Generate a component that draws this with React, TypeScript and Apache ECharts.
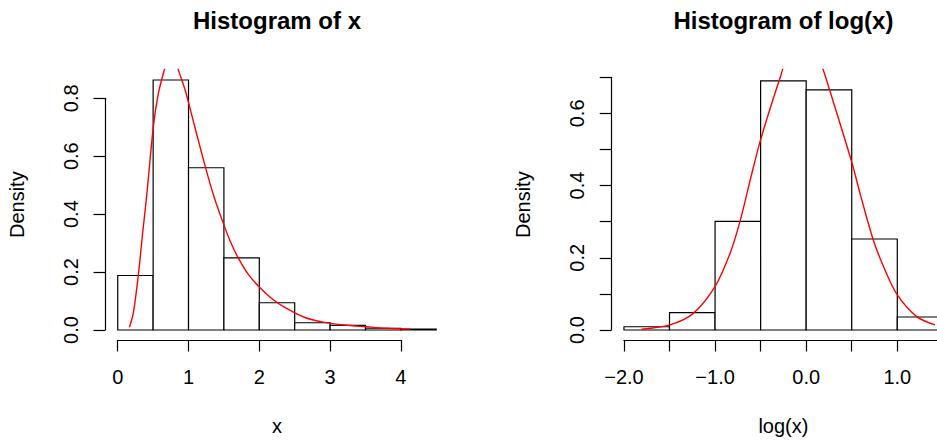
import { useEffect, useRef } from "react";
import * as echarts from "echarts";

// Histogram of x: bin edges and densities
const xBreaks = [0, 0.5, 1, 1.5, 2, 2.5, 3, 3.5, 4, 4.5];
const xDensity = [0.188, 0.863, 0.56, 0.249, 0.094, 0.025, 0.016, 0.006, 0.003];

// Fitted density curve over x
const xCurveX = [0.164, 0.22, 0.291, 0.35, 0.41, 0.503, 0.574, 0.658, 0.7, 0.76, 0.82, 0.856, 0.95, 1.09, 1.23, 1.36, 1.492, 1.6, 1.704, 1.85, 1.986, 2.18, 2.36, 2.645, 2.904, 3.2, 3.517, 3.8, 4.13];
const xCurveY = [0.009, 0.058, 0.19, 0.33, 0.466, 0.702, 0.817, 0.898, 0.93, 0.945, 0.93, 0.898, 0.83, 0.7, 0.57, 0.46, 0.368, 0.3, 0.248, 0.19, 0.152, 0.108, 0.078, 0.043, 0.027, 0.017, 0.011, 0.006, 0.003];

// Histogram of log(x): bin edges and densities
const logBreaks = [-2, -1.5, -1, -0.5, 0, 0.5, 1, 1.5];
const logDensity = [0.009, 0.048, 0.301, 0.69, 0.665, 0.252, 0.036];

// Fitted density curve over log(x)
const logCurveX = [-1.806, -1.495, -1.239, -1.001, -0.836, -0.727, -0.6, -0.507, -0.4, -0.288, -0.2, -0.03, 0.1, 0.188, 0.3, 0.499, 0.6, 0.737, 0.85, 0.993, 1.213, 1.414];
const logCurveY = [0.002, 0.014, 0.046, 0.12, 0.212, 0.3, 0.43, 0.521, 0.61, 0.697, 0.76, 0.8, 0.78, 0.72, 0.63, 0.466, 0.37, 0.249, 0.175, 0.1, 0.037, 0.014];

// Axis tick ranges
const xTicks = { min: 0, max: 4, step: 1 };
const xYTicks = { min: 0, max: 0.8, step: 0.2 };
const logTicks = { min: -2, max: 1.5, step: 0.5 };
const logYTicks = { min: 0, max: 0.7, step: 0.1 };

const FONT = "'Liberation Sans', Arial, Helvetica, sans-serif";
const INK = "#000";
const AXIS_W = 1.2;

const fmtNum = (v: number, digits: number) => {
  const s = Math.abs(v).toFixed(digits);
  return v < -1e-9 ? "\u2212" + s : s;
};

type Panel = {
  title: string;
  xName: string;
  breaks: number[];
  density: number[];
  curveX: number[];
  curveY: number[];
  xTicks: { min: number; max: number; step: number };
  yTicks: { min: number; max: number; step: number };
  xFmt: (v: number) => string;
  yFmt: (v: number) => string;
  ylimMax: number;
  left: number;
  width: number;
};

const PLOT_TOP = 69.4;
const PLOT_HEIGHT = 270.6;

function buildPanel(p: Panel, idx: number) {
  // R-style limits: data range extended by 4% on each side
  const xlo0 = p.breaks[0];
  const xhi0 = p.breaks[p.breaks.length - 1];
  const dx = (xhi0 - xlo0) * 0.04;
  const xlo = xlo0 - dx;
  const xhi = xhi0 + dx;
  const ylo = -p.ylimMax * 0.04;
  const yhi = p.ylimMax * 1.04;

  const px = (v: number) => p.left + ((v - xlo) / (xhi - xlo)) * p.width;
  const py = (v: number) => PLOT_TOP + ((yhi - v) / (yhi - ylo)) * PLOT_HEIGHT;
  const bottom = PLOT_TOP + PLOT_HEIGHT;

  const g = idx * 3;
  const free = { outerBoundsMode: "none", containLabel: false };
  const grids = [
    { left: p.left, top: PLOT_TOP, width: p.width, height: PLOT_HEIGHT, ...free },
    {
      left: px(p.xTicks.min),
      top: bottom - 10,
      width: px(p.xTicks.max) - px(p.xTicks.min),
      height: 10,
      ...free,
    },
    {
      left: p.left,
      top: py(p.yTicks.max),
      width: 10,
      height: py(p.yTicks.min) - py(p.yTicks.max),
      ...free,
    },
  ];

  const hidden = {
    axisLine: { show: false },
    axisTick: { show: false },
    axisLabel: { show: false },
    splitLine: { show: false },
  };
  const nameStyle = { fontFamily: FONT, fontSize: 20, color: INK };
  const labelStyle = { fontFamily: FONT, fontSize: 20, color: INK };
  const lineStyle = { color: INK, width: AXIS_W };

  const xAxes = [
    {
      type: "value",
      gridIndex: g,
      min: xlo,
      max: xhi,
      name: p.xName,
      nameLocation: "middle",
      nameGap: 76,
      nameTextStyle: nameStyle,
      ...hidden,
    },
    {
      type: "value",
      gridIndex: g + 1,
      position: "bottom",
      min: p.xTicks.min,
      max: p.xTicks.max,
      interval: p.xTicks.step,
      axisLine: { show: true, lineStyle },
      axisTick: { show: true, length: 11.5, lineStyle },
      axisLabel: { show: true, margin: 27, formatter: p.xFmt, ...labelStyle },
      splitLine: { show: false },
    },
    { type: "value", gridIndex: g + 2, min: 0, max: 1, show: false },
  ];

  const yAxes = [
    {
      type: "value",
      gridIndex: g,
      min: ylo,
      max: yhi,
      name: "Density",
      nameLocation: "middle",
      nameRotate: 90,
      nameGap: 78,
      nameTextStyle: nameStyle,
      ...hidden,
    },
    { type: "value", gridIndex: g + 1, min: 0, max: 1, show: false },
    {
      type: "value",
      gridIndex: g + 2,
      position: "left",
      min: p.yTicks.min,
      max: p.yTicks.max,
      interval: p.yTicks.step,
      axisLine: { show: true, lineStyle },
      axisTick: { show: true, length: 11.5, lineStyle },
      axisLabel: { show: true, rotate: 90, margin: 24, formatter: p.yFmt, ...labelStyle },
      splitLine: { show: false },
    },
  ];

  const binData = p.density.map((d, i) => [p.breaks[i], p.breaks[i + 1], d]);

  const series = [
    {
      type: "custom",
      xAxisIndex: g,
      yAxisIndex: g,
      clip: true,
      encode: { x: [0, 1], y: 2 },
      data: binData,
      renderItem: (_params: any, api: any) => {
        const a = api.coord([api.value(0), api.value(2)]);
        const b = api.coord([api.value(1), 0]);
        return {
          type: "rect",
          shape: { x: a[0], y: a[1], width: b[0] - a[0], height: b[1] - a[1] },
          style: { fill: "#fff", stroke: INK, lineWidth: AXIS_W },
        };
      },
    },
    {
      type: "line",
      xAxisIndex: g,
      yAxisIndex: g,
      clip: true,
      showSymbol: false,
      smooth: 0.3,
      data: p.curveX.map((x, i) => [x, p.curveY[i]]),
      lineStyle: { color: "#ff0000", width: 1.4 },
      itemStyle: { color: "#ff0000" },
    },
  ];

  const title = {
    type: "text",
    x: p.left + p.width / 2,
    y: 8,
    style: {
      text: p.title,
      fill: INK,
      font: `bold 24px ${FONT}`,
      align: "center",
      verticalAlign: "top",
    },
  };

  return { grids, xAxes, yAxes, series, title };
}

const panels: Panel[] = [
  {
    title: "Histogram of x",
    xName: "x",
    breaks: xBreaks,
    density: xDensity,
    curveX: xCurveX,
    curveY: xCurveY,
    xTicks,
    yTicks: xYTicks,
    xFmt: (v) => String(Math.round(v)),
    yFmt: (v) => v.toFixed(1),
    ylimMax: 0.865,
    left: 105,
    width: 344,
  },
  {
    title: "Histogram of log(x)",
    xName: "log(x)",
    breaks: logBreaks,
    density: logDensity,
    curveX: logCurveX,
    curveY: logCurveY,
    xTicks: logTicks,
    yTicks: logYTicks,
    xFmt: (v) => (Math.abs(v - Math.round(v)) < 1e-6 ? fmtNum(v, 1) : ""),
    yFmt: (v) => (Math.round(v * 10) % 2 === 0 ? v.toFixed(1) : ""),
    ylimMax: 0.694,
    left: 611.2,
    width: 344.4,
  },
];

export default function App() {
  const ref = useRef<HTMLDivElement>(null);

  useEffect(() => {
    if (!ref.current) return;
    const chart = echarts.init(ref.current, undefined, { renderer: "svg" });
    const built = panels.map((p, i) => buildPanel(p, i));
    chart.setOption({
      animation: false,
      backgroundColor: "#fff",
      textStyle: { fontFamily: FONT },
      grid: built.flatMap((b) => b.grids),
      xAxis: built.flatMap((b) => b.xAxes),
      yAxis: built.flatMap((b) => b.yAxes),
      series: built.flatMap((b) => b.series),
      graphic: built.map((b) => b.title),
    } as any);
    return () => chart.dispose();
  }, []);

  return (
    <div
      ref={ref}
      style={{ position: "absolute", left: 0, top: 0, width: 937, height: 443 }}
    />
  );
}
